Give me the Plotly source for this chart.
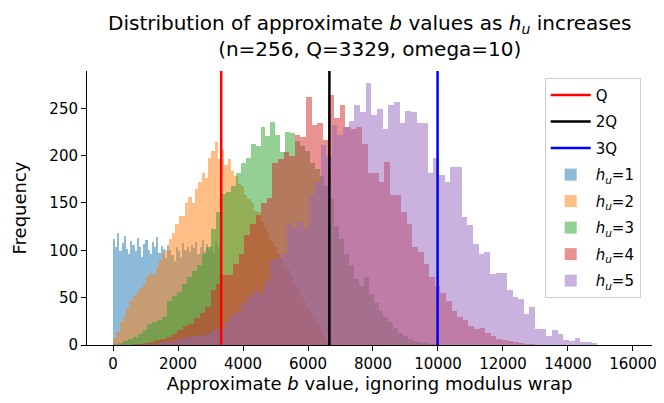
import numpy as np
import plotly.graph_objects as go

Q = 3329
line_marks = {"Q": Q, "2Q": 2 * Q, "3Q": 3 * Q}

# bar heights, one list per h_u, with the value span each covers
hu1_span = (0, 3329)
hu1_counts = [112, 104, 118, 99, 108, 115, 101, 96, 110, 106, 99, 113, 104, 93, 107, 111, 100,
              96, 109, 103, 114, 97, 105, 101, 92, 106, 100, 95, 89, 104, 99, 93, 108, 100, 103,
              98, 106, 102, 109, 96, 104, 111, 99, 107, 101, 105, 97, 110, 103, 106]

hu2_span = (0, 6658)
hu2_counts = [7, 14, 24, 30, 38, 46, 52, 56, 60, 64, 72, 76, 74, 82, 90, 96, 100, 112, 118, 128,
              136, 136, 150, 156, 150, 165, 172, 182, 176, 197, 205, 214, 196, 207, 190, 196,
              184, 178, 170, 168, 158, 154, 150, 142, 140, 130, 124, 118, 110, 104, 96, 92, 84,
              80, 72, 66, 60, 54, 46, 40, 34, 28, 22, 16, 10, 4]

hu3_span = (0, 9987)
hu3_counts = [1, 2, 4, 6, 8, 12, 16, 22, 24, 26, 30, 46, 52, 56, 64, 72, 78, 84, 96, 104, 122,
              140, 160, 162, 168, 182, 192, 198, 212, 210, 230, 221, 236, 222, 204, 225, 224,
              215, 210, 205, 192, 186, 178, 168, 154, 126, 112, 96, 84, 70, 62, 72, 54, 44, 36,
              30, 24, 18, 13, 10, 6, 4, 3, 2, 1, 1]

hu4_span = (600, 13000)
hu4_counts = [1, 1, 2, 3, 5, 6, 8, 12, 16, 20, 22, 28, 34, 40, 58, 64, 74, 74, 86, 96, 116, 128,
              137, 150, 155, 192, 196, 204, 200, 222, 220, 262, 232, 234, 216, 264, 240, 253,
              230, 228, 230, 212, 182, 182, 172, 193, 158, 158, 141, 128, 104, 98, 86, 72, 62,
              55, 46, 36, 30, 26, 20, 17, 18, 13, 10, 6, 5, 4, 3, 2, 1, 1]

hu5_span = (1000, 14900)
hu5_counts = [1, 1, 2, 3, 3, 5, 6, 8, 9, 10, 11, 13, 16, 18, 24, 32, 35, 44, 52, 58, 55, 68, 90,
              92, 96, 128, 124, 130, 122, 158, 172, 211, 200, 232, 222, 230, 237, 253, 246, 277,
              243, 249, 228, 253, 257, 235, 247, 246, 235, 234, 182, 198, 180, 172, 188, 188,
              135, 127, 107, 96, 98, 75, 76, 76, 58, 51, 49, 33, 40, 17, 17, 10, 16, 12, 5, 4,
              7, 3, 3, 2]

x_ticks = list(range(0, 16001, 2000))

series = [
    ("<i>h<sub>u</sub></i>=1", hu1_span, hu1_counts, "#1f77b4"),
    ("<i>h<sub>u</sub></i>=2", hu2_span, hu2_counts, "#ff7f0e"),
    ("<i>h<sub>u</sub></i>=3", hu3_span, hu3_counts, "#2ca02c"),
    ("<i>h<sub>u</sub></i>=4", hu4_span, hu4_counts, "#d62728"),
    ("<i>h<sub>u</sub></i>=5", hu5_span, hu5_counts, "#9467bd"),
]
line_colors = {"Q": "red", "2Q": "black", "3Q": "blue"}

fig = go.Figure()

for name, (lo, hi), counts, color in series:
    edges = np.linspace(lo, hi, len(counts) + 1)
    centers = (edges[:-1] + edges[1:]) / 2
    fig.add_bar(
        x=centers, y=counts, width=edges[1] - edges[0], name=name,
        marker=dict(color=color, line=dict(width=0)), opacity=0.5,
        legendgroup=name, legendrank=100,
    )

for i, (name, xv) in enumerate(line_marks.items()):
    fig.add_vline(
        x=xv, line=dict(color=line_colors[name], width=2.5),
        name=name, showlegend=True, legendgroup=name, legendrank=i + 1,
    )

# two-line title as an annotation so neither line gets clipped
fig.add_annotation(
    text="Distribution of approximate <i>b</i> values as <i>h<sub>u</sub></i> increases"
         "<br>(n=256, Q=3329, omega=10)",
    xref="paper", yref="paper", x=0.5, y=1.03, xanchor="center", yanchor="bottom",
    showarrow=False, font=dict(size=20),
)

font = "DejaVu Sans, Arial, sans-serif"
fig.update_layout(
    width=664, height=403,
    margin=dict(l=79, r=20, t=63, b=66, pad=0),
    paper_bgcolor="white", plot_bgcolor="white",
    barmode="overlay", bargap=0,
    font=dict(family=font, size=15, color="black"),
    legend=dict(
        x=0.98, y=0.975, xanchor="right", yanchor="top",
        bgcolor="white", bordercolor="#cccccc", borderwidth=1,
        font=dict(size=15), traceorder="grouped", tracegroupgap=4, itemwidth=40,
    ),
)
fig.update_xaxes(
    range=[-800, 16585], tickvals=x_ticks, ticktext=[str(t) for t in x_ticks],
    showline=True, linecolor="black", linewidth=1, ticks="outside", ticklen=5,
    tickcolor="black", showgrid=False, zeroline=False,
    title=dict(text="Approximate <i>b</i> value, ignoring modulus wrap", standoff=5),
)
fig.update_yaxes(
    range=[0, 289.4], tickvals=list(range(0, 251, 50)),
    showline=True, linecolor="black", linewidth=1, ticks="outside", ticklen=5,
    tickcolor="black", showgrid=False, zeroline=False,
    title=dict(text="Frequency", standoff=18),
)

fig.write_html("out.html")
